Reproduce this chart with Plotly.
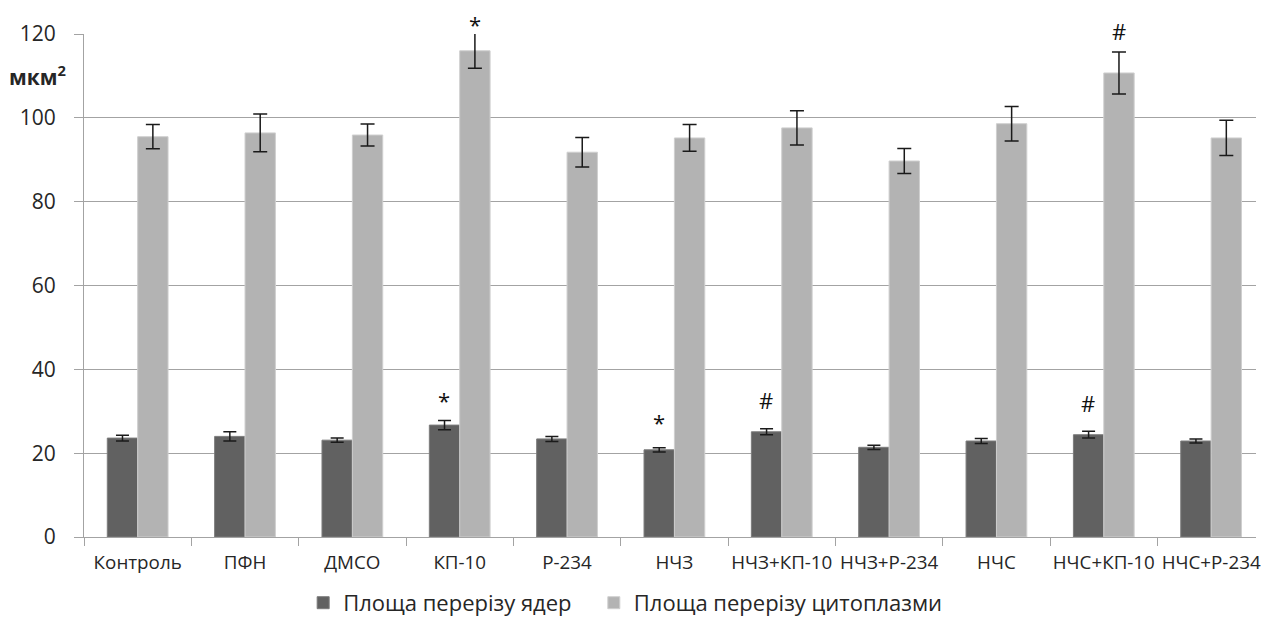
import plotly.graph_objects as go

# Groups and measurements (mean ± error), μm²
groups = ["Контроль", "ПФН", "ДМСО", "КП-10", "Р-234", "НЧЗ",
          "НЧЗ+КП-10", "НЧЗ+Р-234", "НЧС", "НЧС+КП-10", "НЧС+Р-234"]

nuclei_area = [23.6, 24.0, 23.1, 26.7, 23.4, 20.8, 25.1, 21.4, 22.9, 24.4, 22.9]
nuclei_err = [0.7, 1.1, 0.5, 1.1, 0.6, 0.5, 0.7, 0.5, 0.6, 0.8, 0.5]

cyto_area = [95.5, 96.4, 95.9, 116.0, 91.8, 95.2, 97.6, 89.7, 98.6, 110.7, 95.2]
cyto_err = [2.9, 4.5, 2.6, 4.2, 3.5, 3.2, 4.1, 3.0, 4.1, 5.0, 4.2]

# Significance marks per group
nuclei_marks = ["", "", "", "*", "", "*", "#", "", "", "#", ""]
cyto_marks = ["", "", "", "*", "", "", "", "", "", "#", ""]

series_names = ["Площа перерізу ядер", "Площа перерізу цитоплазми"]
y_ticks = [0, 20, 40, 60, 80, 100, 120]
Y_MAX = 120

FONT = "Open Sans"
TEXT = "#262626"
GRID = "#a3a3a3"
DARK = "#616161"
LIGHT = "#b3b3b3"
PX_PER_UNIT = 504 / Y_MAX

fig = go.Figure()
fig.add_trace(go.Bar(
    x=groups, y=nuclei_area, name=series_names[0], legend="legend",
    marker=dict(color=DARK, line=dict(color="#7c7c7c", width=1)),
    error_y=dict(type="data", array=nuclei_err, color="#1a1a1a",
                 thickness=1.5, width=6.5),
))
fig.add_trace(go.Bar(
    x=groups, y=cyto_area, name=series_names[1], legend="legend2",
    marker=dict(color=LIGHT, line=dict(color="#cfcfcf", width=1)),
    error_y=dict(type="data", array=cyto_err, color="#1a1a1a",
                 thickness=1.5, width=7),
))

# Pixel lift of each mark above its error bar
nuc_lift = {3: 20, 5: 26, 6: 29, 9: 28}
cyto_lift = {3: 9, 9: 21}


def mark(i, top, text, xshift, lift):
    # keep the anchor inside the axis range so the mark is not hidden
    y = min(top, Y_MAX)
    lift += (top - y) * PX_PER_UNIT
    return dict(x=groups[i], y=y, xref="x", yref="y", text=text,
                showarrow=False, xshift=xshift, yshift=lift,
                yanchor="middle", font=dict(family=FONT, size=22, color="#111"))


annotations = []
for i, m in enumerate(nuclei_marks):
    if m:
        annotations.append(mark(i, nuclei_area[i] + nuclei_err[i], m, -15.3,
                                nuc_lift.get(i, 22)))
for i, m in enumerate(cyto_marks):
    if m:
        annotations.append(mark(i, cyto_area[i] + cyto_err[i], m, 15.3,
                                cyto_lift.get(i, 15)))

annotations.append(dict(
    x=-0.0655, y=0.918, xref="paper", yref="paper", xanchor="left",
    yanchor="middle", text="<b>мкм<sup>2</sup></b>", showarrow=False,
    font=dict(family=FONT, size=21, color=TEXT)))

legend_style = dict(orientation="h", y=-0.131, xanchor="left", yanchor="middle",
                    font=dict(family=FONT, size=22, color=TEXT),
                    itemwidth=30, bgcolor="rgba(0,0,0,0)")

fig.update_layout(
    width=1261, height=624,
    margin=dict(l=84, r=0, t=34, b=86),
    paper_bgcolor="white", plot_bgcolor="white",
    barmode="group", bargap=0.434, bargroupgap=0,
    font=dict(family=FONT, color=TEXT),
    showlegend=True,
    legend=dict(x=0.187, **legend_style),
    legend2=dict(x=0.435, **legend_style),
    annotations=annotations,
)

fig.update_xaxes(
    range=[-0.5, 10.418], tickangle=0, showline=True, linecolor=GRID,
    linewidth=1, ticks="outside", tickson="boundaries", ticklen=8,
    tickcolor=GRID, tickfont=dict(family=FONT, size=18.8, color=TEXT),
    ticklabelstandoff=8, showgrid=False, fixedrange=True,
)
fig.update_yaxes(
    range=[0, Y_MAX], tickvals=y_ticks, showline=True, linecolor=GRID,
    linewidth=1, ticks="outside", ticklen=9, tickcolor=GRID,
    showgrid=True, gridcolor=GRID, gridwidth=1, zeroline=False,
    tickfont=dict(family=FONT, size=21, color=TEXT), ticklabelstandoff=14,
)

fig.write_html("out.html")
